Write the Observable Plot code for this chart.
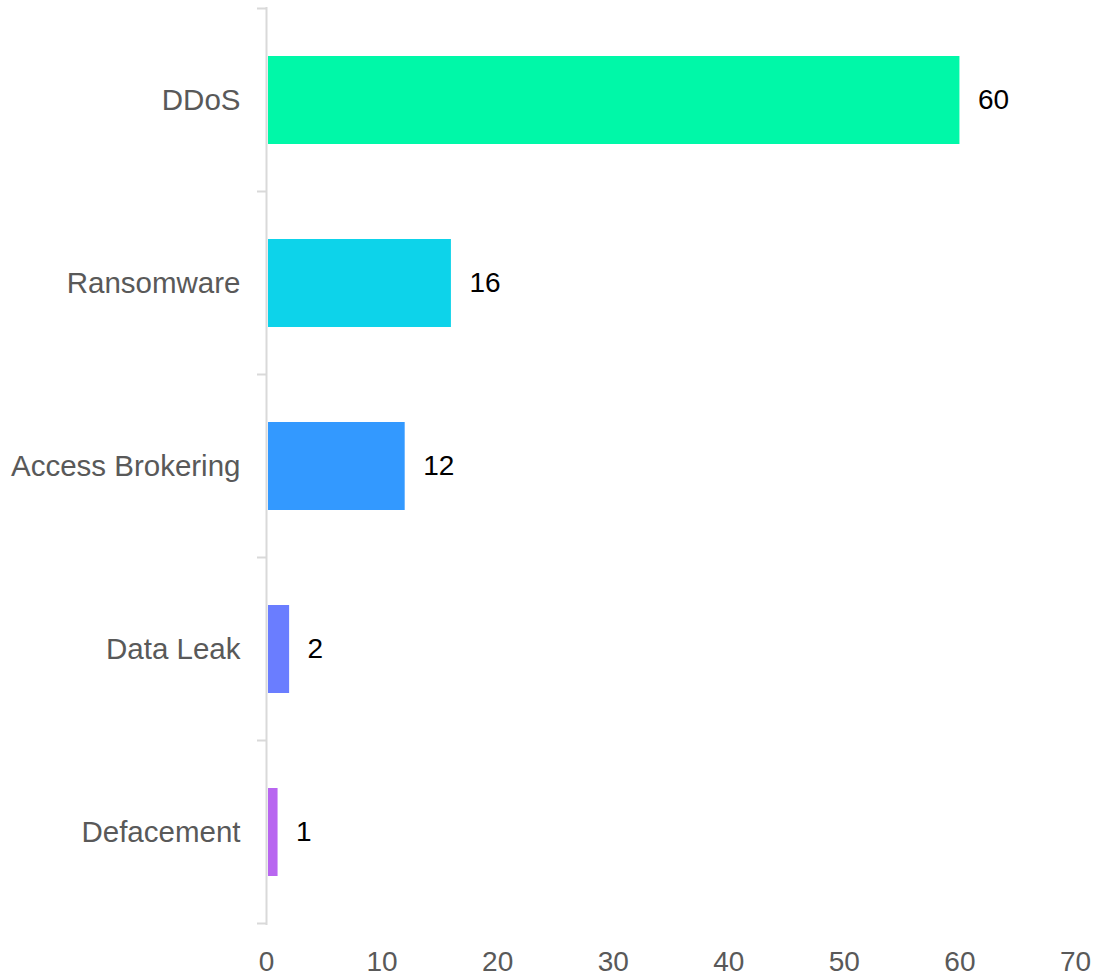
<!DOCTYPE html>
<html>
<head>
<meta charset="utf-8">
<script src="https://cdn.jsdelivr.net/npm/d3@7"></script>
<script src="https://cdn.jsdelivr.net/npm/@observablehq/plot@0.6"></script>
<style>
  html, body { margin: 0; padding: 0; background: #fff; }
  #chart svg { display: block; }
</style>
</head>
<body>
<div id="chart"></div>
<script>
const categories = ["DDoS", "Ransomware", "Access Brokering", "Data Leak", "Defacement"];
const values = [60, 16, 12, 2, 1];
const colors = ["#00F8A8", "#0DD3EA", "#3399FF", "#6A7DFF", "#B866F0"];
const xTicks = [0, 10, 20, 30, 40, 50, 60, 70];

const data = categories.map((c, i) => ({category: c, value: values[i], color: colors[i]}));

const axisGray = "#d9d9d9";
const labelGray = "#595959";

// tick marks at band boundaries on the y axis
function bandBoundaryTicks(index, scales, vals, dimensions) {
  const y = scales.y;
  const step = y.step();
  const bw = y.bandwidth();
  const half = (step - bw) / 2;
  const dom = y.domain();
  const ys = dom.map(d => y(d) - half);
  ys.push(y(dom[dom.length - 1]) + bw + half);
  const x0 = dimensions.marginLeft;
  const g = d3.create("svg:g");
  g.selectAll("line").data(ys).join("line")
    .attr("x1", x0 - 9).attr("x2", x0)
    .attr("y1", d => d).attr("y2", d => d)
    .attr("stroke", axisGray).attr("stroke-width", 2);
  return g.node();
}

const chart = Plot.plot({
  width: 1099,
  height: 979,
  marginLeft: 266,
  marginRight: 24,
  marginTop: 7,
  marginBottom: 54,
  style: {fontFamily: "'Liberation Sans', Arial, Helvetica, sans-serif", background: "#fff"},
  x: {domain: [0, 70]},
  y: {domain: categories, paddingInner: 0.52, paddingOuter: 0.26},
  marks: [
    Plot.barX(data, {x: "value", y: "category", fill: "color", insetLeft: 2}),
    Plot.ruleX([0], {stroke: axisGray, strokeWidth: 2}),
    bandBoundaryTicks,
    Plot.text(data, {x: "value", y: "category", text: d => String(d.value), dx: 18, textAnchor: "start", fontSize: 28, fill: "#000"}),
    Plot.axisX({ticks: xTicks, tickSize: 0, tickPadding: 26, fontSize: 28, color: labelGray, label: null}),
    Plot.axisY({tickSize: 0, tickPadding: 26, fontSize: 29.5, color: labelGray, label: null})
  ]
});

document.getElementById("chart").appendChild(chart);
</script>
</body>
</html>
